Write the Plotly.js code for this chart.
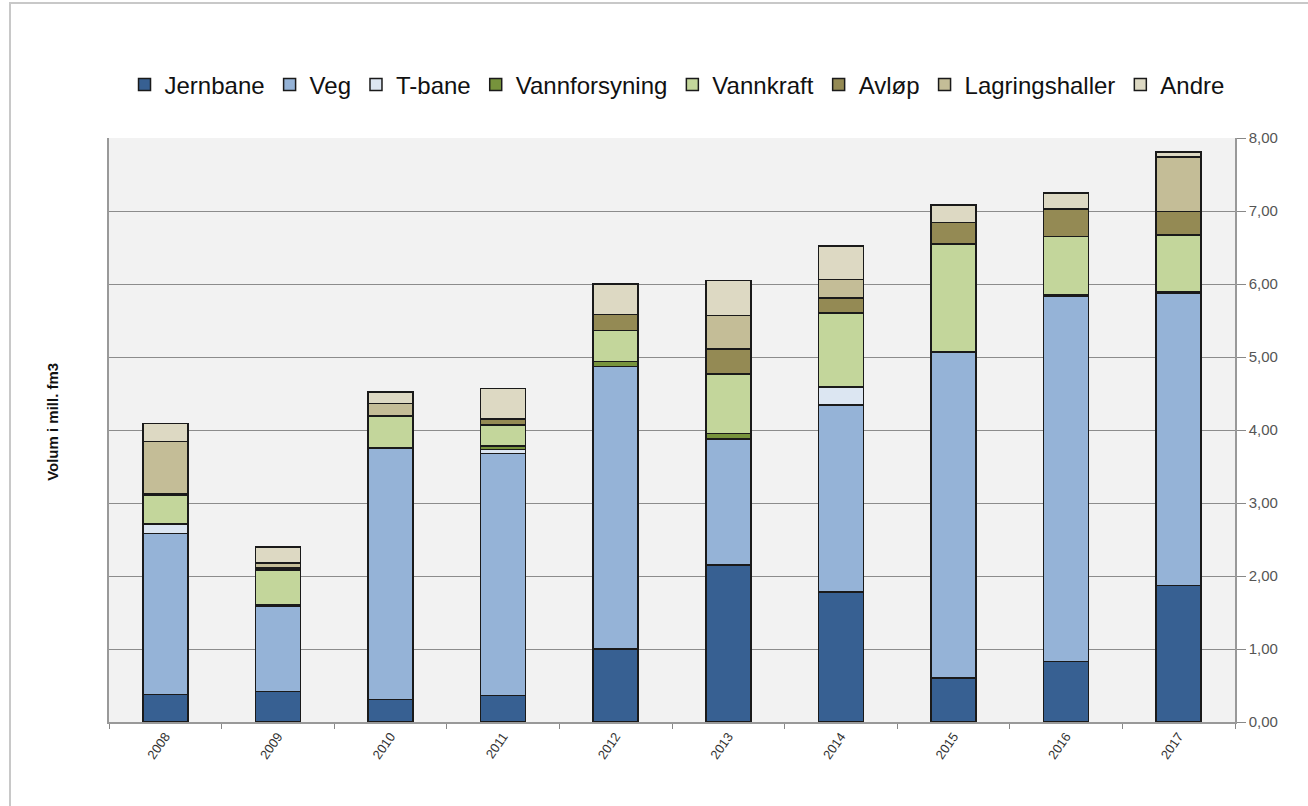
<!DOCTYPE html>
<html>
<head>
<meta charset="utf-8">
<script src="https://cdn.plot.ly/plotly-3.0.1.min.js"></script>
<style>
  html, body { margin: 0; padding: 0; background: #ffffff; }
  #chart { width: 1308px; height: 806px; position: relative; }
  #frame { position: absolute; left: 9px; top: 2px; width: 1400px; height: 1000px;
           border-left: 2px solid #c8c8c8; border-top: 2px solid #c8c8c8; pointer-events: none; }
</style>
</head>
<body>
<div id="chart"></div>
<div id="frame"></div>
<script>
const years = ["2008","2009","2010","2011","2012","2013","2014","2015","2016","2017"];

const jernbane       = [0.38, 0.42, 0.31, 0.36, 1.00, 2.15, 1.78, 0.60, 0.83, 1.87];
const veg            = [2.20, 1.17, 3.44, 3.32, 3.87, 1.73, 2.56, 4.46, 5.00, 4.01];
const tbane          = [0.13, 0.00, 0.00, 0.05, 0.00, 0.00, 0.25, 0.00, 0.00, 0.00];
const vannforsyning  = [0.00, 0.02, 0.01, 0.05, 0.07, 0.07, 0.00, 0.01, 0.02, 0.01];
const vannkraft      = [0.40, 0.47, 0.43, 0.29, 0.42, 0.82, 1.01, 1.48, 0.80, 0.78];
const avlop          = [0.01, 0.03, 0.01, 0.08, 0.22, 0.34, 0.21, 0.29, 0.37, 0.32];
const lagringshaller = [0.72, 0.07, 0.16, 0.00, 0.00, 0.46, 0.25, 0.00, 0.01, 0.75];
const andre          = [0.25, 0.22, 0.16, 0.42, 0.42, 0.48, 0.46, 0.24, 0.22, 0.07];

const seriesNames  = ["Jernbane","Veg","T-bane","Vannforsyning","Vannkraft","Avløp","Lagringshaller","Andre"];
const seriesValues = [jernbane, veg, tbane, vannforsyning, vannkraft, avlop, lagringshaller, andre];
const seriesColors = ["#376092","#95b3d7","#dce6f2","#77933c","#c3d69b","#948a54","#c4bd97","#ddd9c3"];

const yTickVals = [0,1,2,3,4,5,6,7,8];
const yTitle = "Volum i mill. fm3";

const FONT = "Arial, 'Liberation Sans', sans-serif";

const traces = seriesNames.map((name, i) => ({
  type: "bar",
  name: name,
  x: years,
  y: seriesValues[i],
  marker: { color: seriesColors[i], line: { color: "#1a1a1a", width: 1.5 } },
  hoverinfo: "x+y+name"
}));

const layout = {
  width: 1308,
  height: 806,
  margin: { l: 109, r: 73, t: 138, b: 84, pad: 0 },
  paper_bgcolor: "rgba(0,0,0,0)",
  plot_bgcolor: "#f2f2f2",
  barmode: "stack",
  bargap: 0.6,
  separators: ", ",
  font: { family: FONT, color: "#222" },
  showlegend: true,
  legend: {
    orientation: "h",
    xref: "container",
    x: 0.5176, xanchor: "center",
    yref: "container",
    y: 1 - 85/806, yanchor: "middle",
    font: { size: 24, family: FONT, color: "#111" },
    traceorder: "normal",
    bgcolor: "rgba(0,0,0,0)",
    itemwidth: 30
  },
  xaxis: {
    type: "category",
    tickangle: -55,
    tickfont: { size: 13, color: "#333", family: FONT },
    ticks: "outside",
    tickson: "boundaries",
    ticklen: 5,
    tickcolor: "#888",
    showline: true,
    linecolor: "#999",
    linewidth: 1.5,
    showgrid: false,
    fixedrange: true
  },
  yaxis: {
    side: "right",
    range: [0, 8],
    tickvals: yTickVals,
    tickformat: ".2f",
    tickfont: { size: 15, color: "#555", family: FONT },
    ticks: "outside",
    ticklen: 9,
    tickcolor: "#888",
    showline: true,
    mirror: true,
    linecolor: "#999",
    linewidth: 1.5,
    showgrid: true,
    gridcolor: "#8c8c8c",
    gridwidth: 1,
    zeroline: false,
    fixedrange: true
  },
  annotations: [{
    text: "<b>" + yTitle + "</b>",
    xref: "paper", yref: "paper",
    x: -0.0497, y: 0.514,
    xanchor: "center", yanchor: "middle",
    textangle: -90,
    showarrow: false,
    font: { size: 15, color: "#111", family: FONT }
  }]
};

Plotly.newPlot("chart", traces, layout, { displayModeBar: false, staticPlot: false });
</script>
</body>
</html>
